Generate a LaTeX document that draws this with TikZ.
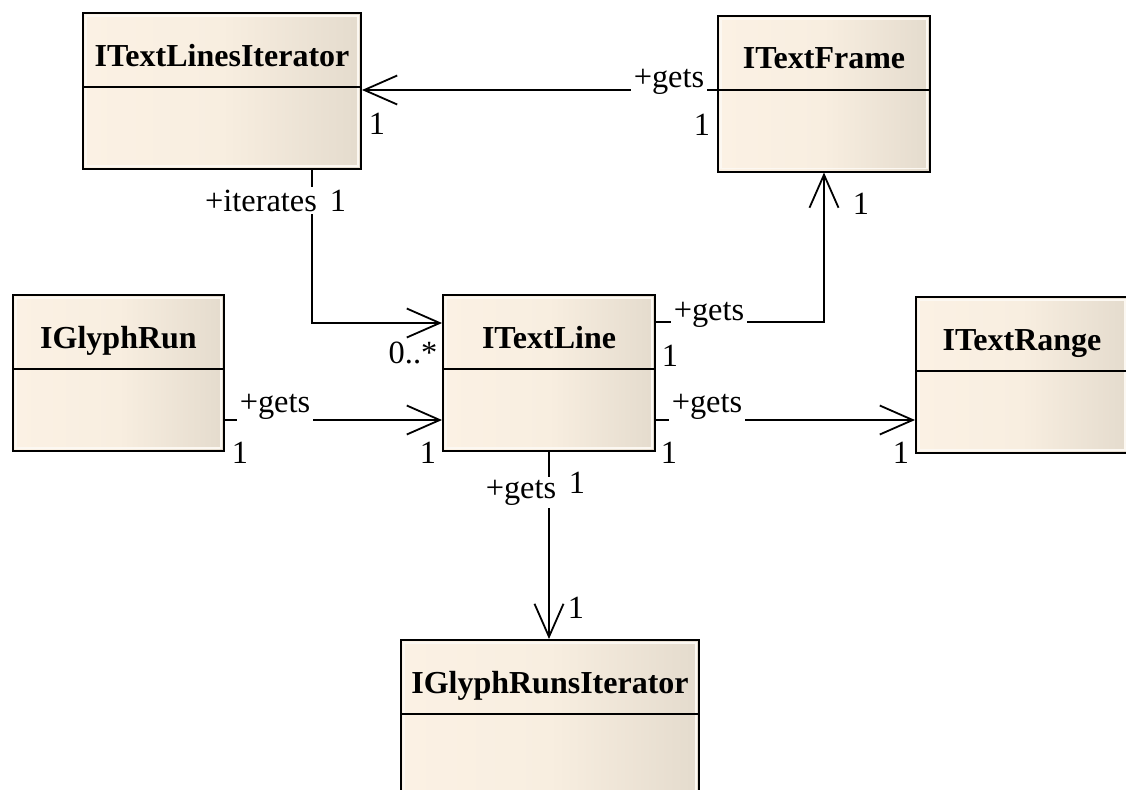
\documentclass[tikz,border=0pt]{standalone}
\usepackage{fontspec}
\setmainfont{Liberation Serif}
\usetikzlibrary{arrows.meta,calc,positioning}

\definecolor{classleft}{RGB}{251,241,228}
\definecolor{classmid}{RGB}{248,238,224}
\definecolor{classright}{RGB}{228,219,205}
\definecolor{classrim}{RGB}{252,248,242}

\tikzset{
  classbox/.style={draw=black, line width=1pt, inner sep=0pt, minimum height=78pt,
    left color=classleft, right color=classright, middle color=classmid,
    path picture={
      \draw[classrim, line width=0.8pt] ([shift={(1.6pt,-1.6pt)}]path picture bounding box.north west) rectangle ([shift={(-1.6pt,1.6pt)}]path picture bounding box.south east);
      \draw[black, line width=1pt] ([yshift=-37pt]path picture bounding box.north west) -- ([yshift=-37pt]path picture bounding box.north east);
    }},
  classname/.style={font=\bfseries\fontsize{16}{18}\selectfont, anchor=base, inner sep=0pt},
  assoc/.style={line width=0.9pt, -{Straight Barb[length=16.5pt, width=14.5pt, line width=0.9pt]}},
  role/.style={font=\fontsize{16.2}{18}\selectfont, fill=white, inner sep=1.5pt, anchor=base},
  mult/.style={font=\fontsize{16.2}{18}\selectfont, inner sep=0pt},
}

\begin{document}
\begin{tikzpicture}[x=0.5pt, y=-0.5pt]
    \useasboundingbox (0,0) rectangle (1126,789);

    % Draw the classes
    \node[classbox, minimum width=139pt] (tli) at (222,91) {};
    \node[classname] (tli-name) at ($(tli.north)+(0,54)$) {ITextLinesIterator};
    \node[classbox, minimum width=106pt] (tfr) at (824,93.5) {};
    \node[classname] (tfr-name) at ($(tfr.north)+(0,54)$) {ITextFrame};
    \node[classbox, minimum width=105.5pt] (gr) at (118.5,373) {};
    \node[classname] (gr-name) at ($(gr.north)+(0,54)$) {IGlyphRun};
    \node[classbox, minimum width=106pt] (tl) at (549,373) {};
    \node[classname] (tl-name) at ($(tl.north)+(0,54)$) {ITextLine};
    \node[classbox, minimum width=106pt] (tr) at (1022,375) {};
    \node[classname] (tr-name) at ($(tr.north)+(0,54)$) {ITextRange};
    \node[classbox, minimum width=149pt] (grsi) at (550,718) {};
    \node[classname] (grsi-name) at ($(grsi.north)+(0,54)$) {IGlyphRunsIterator};

    % Draw the associations
    \draw[assoc] (tfr.west) ++(0,-3.5) coordinate (fr) -- (fr -| tli.east);
    \draw[assoc] (tli.south) ++(90,0) |- ($(tl.west)+(0,-50)$);
    \draw[assoc] (tl.east) ++(0,-51) -| (tfr.south);
    \draw[assoc] (tl.east) ++(0,47) coordinate (rg) -- (rg -| tr.west);
    \draw[assoc] (gr.east) ++(0,47) coordinate (gl) -- (gl -| tl.west);
    \draw[assoc] (tl.south) -- (tl.south |- grsi.north);

    % Role names on the associations
    \node[role] (fr-role) at (669,87) {+gets};
    \node[role] (it-role) at (261,211) {+iterates};
    \node[role] (lf-role) at (709,320) {+gets};
    \node[role] (gl-role) at (275,412) {+gets};
    \node[role] (rg-role) at (707,412) {+gets};
    \node[role] (ri-role) at (521,498) {+gets};

    % Multiplicities
    \node[mult] (fr-m1) at (377,124) {1};
    \node[mult] (fr-m2) at (702,125) {1};
    \node[mult] (it-m1) at (338,201) {1};
    \node[mult] (it-m2) at (413,353) {0..*};
    \node[mult] (lf-m1) at (670,356) {1};
    \node[mult] (lf-m2) at (861,204) {1};
    \node[mult] (gl-m1) at (240,453) {1};
    \node[mult] (gl-m2) at (428,453) {1};
    \node[mult] (rg-m1) at (669,453) {1};
    \node[mult] (rg-m2) at (901,453) {1};
    \node[mult] (ri-m1) at (577,483) {1};
    \node[mult] (ri-m2) at (576,608) {1};
\end{tikzpicture}
\end{document}
